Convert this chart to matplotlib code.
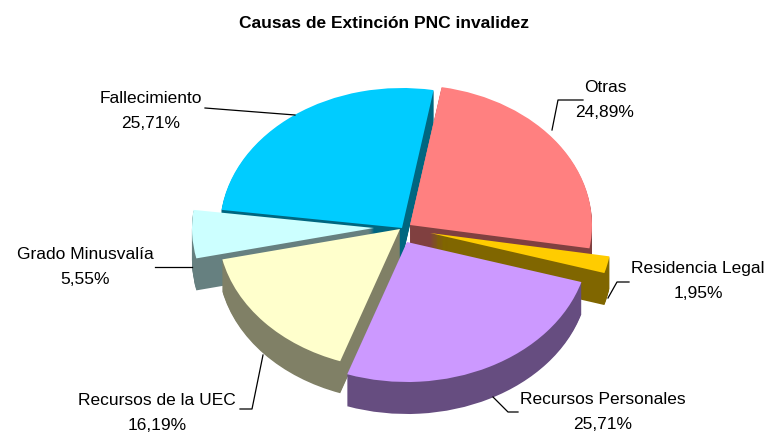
import matplotlib
matplotlib.use('Agg')
import matplotlib.pyplot as plt
from matplotlib.colors import to_rgb
from matplotlib.lines import Line2D

plt.rcParams['font.family'] = ['Liberation Sans', 'DejaVu Sans']

names = ['Otras', 'Residencia Legal', 'Recursos Personales', 'Recursos de la UEC',
         'Grado Minusvalía', 'Fallecimiento']
values = [24.89, 1.95, 25.71, 16.19, 5.55, 25.71]
value_labels = ['24,89%', '1,95%', '25,71%', '16,19%', '5,55%', '25,71%']
colors = ['#FF8080', '#FFCC00', '#CC99FF', '#FFFFCC', '#CCFFFF', '#00CCFF']

W, H = 769, 436
SQUASH = 140 / 182
RADIUS = 182
DEPTH = 32
START = 80

# where the tip of every slice sits, in pixels of the picture
tips = [(410, 225), (430, 233), (407, 242), (400, 229), (374, 228), (402, 228)]
# drawing order, back to front
order = [5, 0, 1, 4, 3, 2]

label_pos = [(605, 100), (698, 281), (603, 412), (157, 413), (85, 267), (151, 111)]
leaders = [
    [(583, 100), (558, 100), (552, 130)],
    [(629, 282), (617, 282), (608, 298)],
    [(518, 412), (508, 412), (493, 397)],
    [(240, 409), (252, 409), (263, 355)],
    [(155, 267), (192, 267)],
    [(205, 108), (295, 115)],
]


def py(y):
    return (H - y) / SQUASH


fig = plt.figure(figsize=(W / 100, H / 100), dpi=100)
ax = fig.add_axes([0, 0, 1, 1])

angles = [START]
for v in values:
    angles.append(angles[-1] - v * 3.6)

for i in order:
    side = tuple(c * 0.5 for c in to_rgb(colors[i]))
    x, y = tips[i]
    for d in range(DEPTH, 0, -1):
        ax.pie([values[i] / 100], startangle=angles[i], counterclock=False, normalize=False,
               center=(x, py(y + d)), radius=RADIUS, colors=[side],
               wedgeprops={'linewidth': 0})
    ax.pie([values[i] / 100], startangle=angles[i], counterclock=False, normalize=False,
           center=(x, py(y)), radius=RADIUS, colors=[colors[i]],
           wedgeprops={'linewidth': 0})

ax.set_aspect('auto')
ax.set_xlim(0, W)
ax.set_ylim(0, H / SQUASH)
ax.axis('off')

for pts in leaders:
    fig.add_artist(Line2D([p[0] / W for p in pts], [1 - p[1] / H for p in pts],
                          color='black', lw=0.9))

for name, val, (x, y) in zip(names, value_labels, label_pos):
    fig.text(x / W, 1 - y / H, name + '\n' + val, ha='center', va='center',
             fontsize=12.5, linespacing=1.9, color='black')

fig.text(384 / W, 1 - 24 / H, 'Causas de Extinción PNC invalidez', ha='center', va='center',
         fontsize=12.5, fontweight='bold')

fig.savefig('out.png', dpi=100)
